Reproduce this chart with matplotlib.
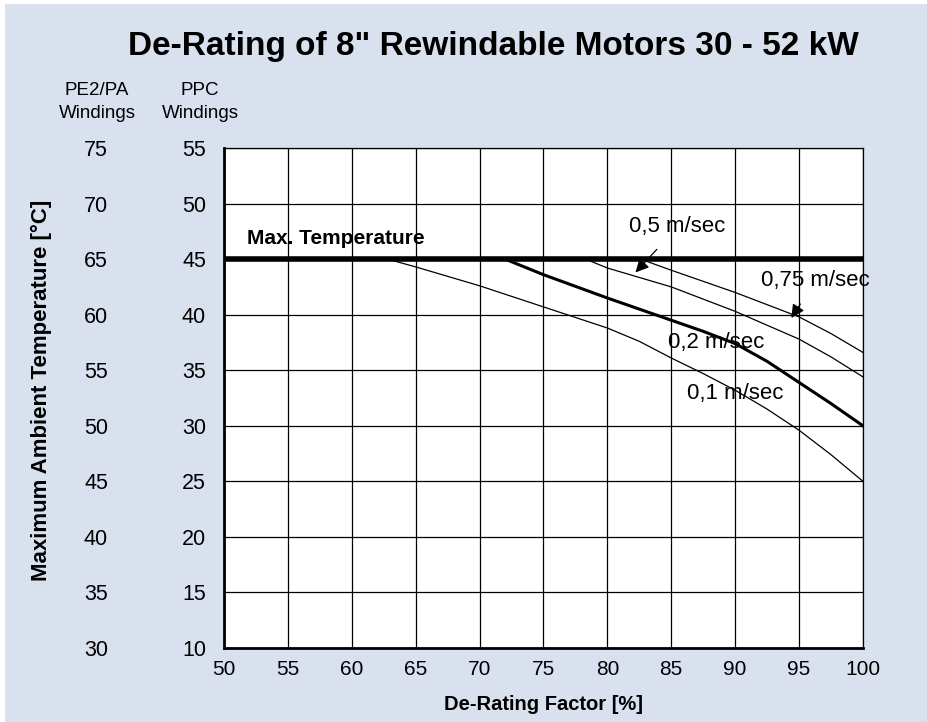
import matplotlib.pyplot as plt
from matplotlib.patches import Rectangle

# data
factor_01 = [62.8, 65, 70, 75, 80, 82.5, 85, 87.5, 90, 92.5, 95, 97.5, 100]
temp_01 = [45, 44.3, 42.6, 40.7, 38.8, 37.6, 36.1, 34.7, 33.2, 31.5, 29.6, 27.4, 25.0]
factor_02 = [72, 75, 80, 85, 87.5, 90, 92.5, 95, 97.5, 100]
temp_02 = [45, 43.6, 41.5, 39.5, 38.5, 37.4, 35.8, 33.9, 32.0, 30.0]
factor_05 = [78.3, 80, 85, 90, 95, 97.5, 100]
temp_05 = [45, 44.2, 42.5, 40.3, 37.8, 36.2, 34.4]
factor_075 = [82.6, 85, 90, 95, 97.5, 100]
temp_075 = [45, 44.0, 42.0, 39.8, 38.3, 36.6]
max_temp = 45

x_ticks = list(range(50, 101, 5))
ppc_ticks = list(range(10, 56, 5))
pe2_ticks = list(range(30, 76, 5))

plt.rcParams['font.family'] = ['Liberation Sans', 'DejaVu Sans']

bg = '#d9e0ee'
fig = plt.figure(figsize=(9.27, 7.22), dpi=100)
fig.patch.set_facecolor('white')
fig.patches.append(Rectangle((5 / 927, 0), 1, 1 - 4 / 722, transform=fig.transFigure,
                             facecolor=bg, edgecolor='none', zorder=-10))
ax = fig.add_axes([0.2416, 0.1025, 0.6893, 0.6925])
ax.set_facecolor('white')

ax.plot(factor_01, temp_01, color='black', lw=0.9)
ax.plot(factor_02, temp_02, color='black', lw=2.2)
ax.plot(factor_05, temp_05, color='black', lw=0.9)
ax.plot(factor_075, temp_075, color='black', lw=0.9)
ax.axhline(max_temp, color='black', lw=4, zorder=3)

ax.set_xlim(50, 100)
ax.set_ylim(10, 55)
ax.set_xticks(x_ticks)
ax.set_yticks(ppc_ticks)
ax.set_xticklabels([str(v) for v in x_ticks], fontsize=15)
ax.set_yticklabels([str(v) for v in ppc_ticks], fontsize=15.5)
ax.tick_params(axis='x', length=0, pad=9)
ax.tick_params(axis='y', length=0, pad=13)
ax.grid(True, color='black', lw=0.9)
ax.set_axisbelow(True)
for side in ['top', 'right']:
    ax.spines[side].set_linewidth(0.9)
for side in ['left', 'bottom']:
    ax.spines[side].set_linewidth(2.0)

sec = ax.secondary_yaxis(-0.177, functions=(lambda y: y + 20, lambda y: y - 20))
sec.set_yticks(pe2_ticks)
sec.set_yticklabels([str(v) for v in pe2_ticks], fontsize=15.5)
sec.tick_params(length=0, pad=2)
sec.spines['left'].set_visible(False)

ax.text(51.8, 46.9, 'Max. Temperature', fontsize=15, fontweight='bold', va='center')
ax.annotate('0,5 m/sec', xy=(82.2, 43.8), xytext=(85.5, 47.9), fontsize=16,
            ha='center', va='center',
            arrowprops=dict(arrowstyle='-|>', color='black', lw=0.9, shrinkA=9, shrinkB=0,
                            mutation_scale=20))
ax.annotate('0,75 m/sec', xy=(94.4, 39.7), xytext=(96.3, 43.1), fontsize=16,
            ha='center', va='center',
            arrowprops=dict(arrowstyle='-|>', color='black', lw=0.9, shrinkA=9, shrinkB=0,
                            mutation_scale=20))
ax.text(88.5, 37.5, '0,2 m/sec', fontsize=16, ha='center', va='center')
ax.text(90.0, 32.9, '0,1 m/sec', fontsize=16, ha='center', va='center')

fig.text(493 / 927, 1 - 46 / 722, 'De-Rating of 8" Rewindable Motors 30 - 52 kW',
         fontsize=24, fontweight='bold', ha='center', va='center')
fig.text(97 / 927, 1 - 102 / 722, 'PE2/PA\nWindings', fontsize=13.5,
         ha='center', va='center', linespacing=1.45)
fig.text(200 / 927, 1 - 102 / 722, 'PPC\nWindings', fontsize=13.5,
         ha='center', va='center', linespacing=1.45)
fig.text(41 / 927, 1 - 390 / 722, 'Maximum Ambient Temperature [°C]', fontsize=16,
         fontweight='bold', rotation=90, ha='center', va='center')
fig.text(543 / 927, 1 - 704 / 722, 'De-Rating Factor [%]', fontsize=14.5,
         fontweight='bold', ha='center', va='center')

fig.savefig('out.png', dpi=100, facecolor='white')
